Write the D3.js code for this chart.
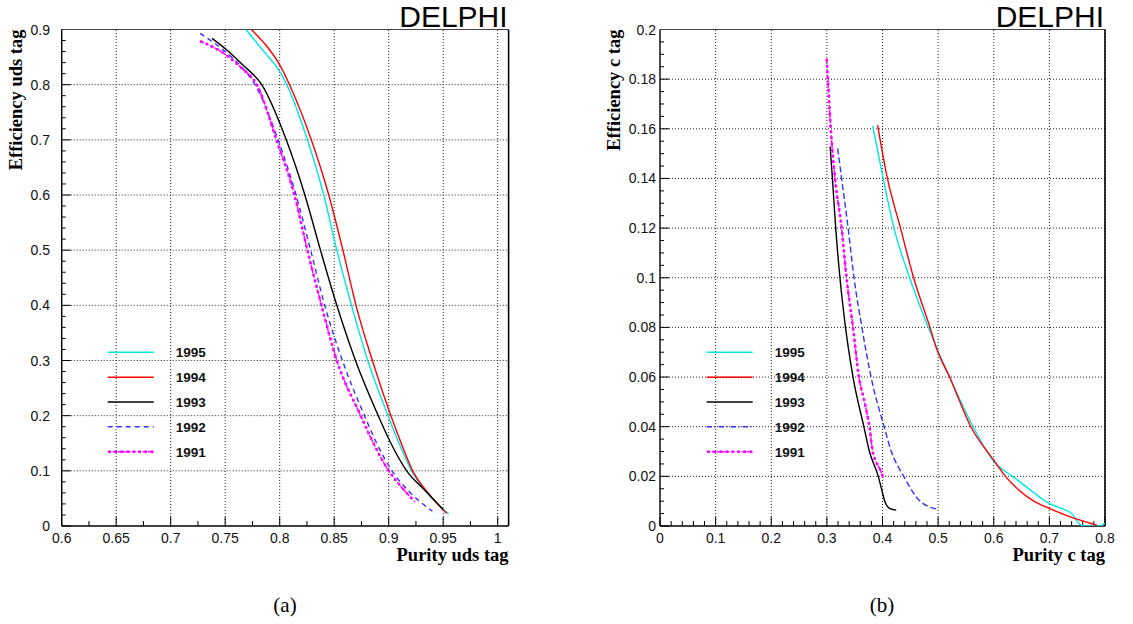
<!DOCTYPE html>
<html>
<head>
<meta charset="utf-8">
<script src="https://cdn.jsdelivr.net/npm/d3@7"></script>
<style>
  html, body { margin: 0; padding: 0; background: #fff; }
  svg { display: block; }
</style>
</head>
<body>
<svg id="chart" width="1133" height="624"></svg>
<script>
// ---------- data ----------
const years = ["1995", "1994", "1993", "1992", "1991"];

// Panel (a): [purity uds tag, efficiency uds tag]
const uds1995 = [[0.769,0.9],[0.786,0.859],[0.800,0.824],[0.8065,0.80],[0.8254,0.70],[0.8404,0.60],[0.8524,0.50],[0.8659,0.40],[0.8808,0.30],[0.8994,0.20],[0.9095,0.15],[0.921,0.10],[0.937,0.056],[0.955,0.022]];
const uds1994 = [[0.774,0.9],[0.788,0.870],[0.800,0.836],[0.809,0.80],[0.829,0.70],[0.845,0.60],[0.858,0.50],[0.870,0.40],[0.885,0.30],[0.902,0.20],[0.9115,0.15],[0.922,0.10],[0.937,0.058],[0.953,0.023]];
const uds1993 = [[0.738,0.884],[0.752,0.862],[0.766,0.836],[0.7835,0.80],[0.806,0.70],[0.8231,0.60],[0.8374,0.50],[0.8524,0.40],[0.8695,0.30],[0.8904,0.20],[0.902,0.15],[0.9165,0.10],[0.933,0.065],[0.950,0.03]];
const uds1992 = [[0.727,0.893],[0.750,0.860],[0.765,0.832],[0.7773,0.80],[0.7985,0.70],[0.815,0.60],[0.8284,0.50],[0.8413,0.40],[0.8575,0.30],[0.8778,0.20],[0.889,0.15],[0.903,0.10],[0.920,0.06],[0.940,0.027]];
const uds1991 = [[0.728,0.878],[0.750,0.855],[0.765,0.830],[0.779,0.80],[0.797,0.70],[0.8135,0.60],[0.8254,0.50],[0.8383,0.40],[0.8524,0.30],[0.8743,0.20],[0.886,0.15],[0.900,0.10],[0.912,0.07],[0.924,0.044]];

// Panel (b): [purity c tag, efficiency c tag]
const c1995 = [[0.3824,0.1612],[0.4012,0.14],[0.4206,0.12],[0.4488,0.10],[0.4824,0.08],[0.5206,0.06],[0.5629,0.04],[0.600,0.026],[0.635,0.0198],[0.67,0.0138],[0.70,0.0090],[0.725,0.0068],[0.741,0.0048],[0.753,0.0010],[0.762,0.0],[0.791,0.0],[0.80,0.0012]];
const c1994 = [[0.3912,0.1615],[0.4088,0.14],[0.4324,0.12],[0.4559,0.10],[0.4853,0.08],[0.497,0.0716],[0.5206,0.06],[0.5588,0.04],[0.600,0.0265],[0.621,0.02],[0.645,0.0145],[0.672,0.010],[0.70,0.0071],[0.741,0.0034],[0.7735,0.0011],[0.785,0.0003]];
const c1993 = [[0.3059,0.1529],[0.31,0.14],[0.3159,0.12],[0.3235,0.10],[0.3335,0.08],[0.347,0.06],[0.3665,0.04],[0.3765,0.03],[0.3924,0.02],[0.3982,0.015],[0.4041,0.01],[0.4135,0.007],[0.4247,0.0064]];
const c1992 = [[0.3194,0.1521],[0.3265,0.14],[0.3382,0.12],[0.3488,0.10],[0.363,0.08],[0.3794,0.06],[0.4029,0.04],[0.4159,0.03],[0.4382,0.02],[0.4676,0.01],[0.5,0.0067]];
const c1991 = [[0.2997,0.1877],[0.3018,0.18],[0.307,0.16],[0.3147,0.14],[0.3265,0.12],[0.3353,0.10],[0.347,0.08],[0.3576,0.06],[0.3676,0.05],[0.3765,0.04],[0.3824,0.03],[0.3959,0.0226],[0.4018,0.0192]];

const udsXTicks = [0.6,0.65,0.7,0.75,0.8,0.85,0.9,0.95,1];
const udsYTicks = [0,0.1,0.2,0.3,0.4,0.5,0.6,0.7,0.8,0.9];
const cXTicks = [0,0.1,0.2,0.3,0.4,0.5,0.6,0.7,0.8];
const cYTicks = [0,0.02,0.04,0.06,0.08,0.1,0.12,0.14,0.16,0.18,0.2];

// ---------- styles ----------
const styles = {
  "1995": {color:"#00e5e5", dash:null, marks:false},
  "1994": {color:"#ff0000", dash:null, marks:false},
  "1993": {color:"#000000", dash:null, marks:false},
  "1992": {color:"#3333ff", dash:"5,4", marks:false},
  "1991": {color:"#ff00ff", dash:"3,2", marks:true}
};

const svg = d3.select("#chart");

function panel(cfg) {
  const x = d3.scaleLinear().domain(cfg.xDomain).range([cfg.x0, cfg.x1]);
  const y = d3.scaleLinear().domain(cfg.yDomain).range([cfg.y0, cfg.y1]);
  const g = svg.append("g");
  const clipId = "clip" + cfg.id;
  svg.append("clipPath").attr("id", clipId).append("rect")
    .attr("x", cfg.x0).attr("y", cfg.y1).attr("width", cfg.x1 - cfg.x0).attr("height", cfg.y0 - cfg.y1);

  // grid
  g.append("g").selectAll("line").data(cfg.xTicks.filter(t => t > cfg.xDomain[0])).join("line")
    .attr("x1", d => x(d)).attr("x2", d => x(d)).attr("y1", cfg.y0).attr("y2", cfg.y1)
    .attr("stroke", "#222").attr("stroke-width", 1).attr("stroke-dasharray", "1,2");
  g.append("g").selectAll("line").data(cfg.yTicks.filter(t => t > cfg.yDomain[0])).join("line")
    .attr("y1", d => y(d)).attr("y2", d => y(d)).attr("x1", cfg.x0).attr("x2", cfg.x1)
    .attr("stroke", "#222").attr("stroke-width", 1).attr("stroke-dasharray", "1,2");

  // ticks (major + minor), drawn inside the frame
  const xMinor = d3.range(cfg.xDomain[0], cfg.xDomain[1] + 1e-9, cfg.xMinorStep);
  g.append("g").selectAll("line").data(xMinor).join("line")
    .attr("x1", d => x(d)).attr("x2", d => x(d)).attr("y1", cfg.y0).attr("y2", d => {
      const isMajor = cfg.xTicks.some(t => Math.abs(t - d) < 1e-6);
      return cfg.y0 - (isMajor ? 9 : 5);
    })
    .attr("stroke", "#000").attr("stroke-width", 1);
  const yMinor = d3.range(cfg.yDomain[0], cfg.yDomain[1] + 1e-9, cfg.yMinorStep);
  g.append("g").selectAll("line").data(yMinor).join("line")
    .attr("y1", d => y(d)).attr("y2", d => y(d)).attr("x1", cfg.x0).attr("x2", d => {
      const isMajor = cfg.yTicks.some(t => Math.abs(t - d) < 1e-6);
      return cfg.x0 + (isMajor ? 9 : 4);
    })
    .attr("stroke", "#000").attr("stroke-width", 1);

  // frame
  g.append("line").attr("x1", cfg.x0).attr("x2", cfg.x1).attr("y1", cfg.y1).attr("y2", cfg.y1)
    .attr("stroke", "#444").attr("stroke-width", 1.2);
  g.append("line").attr("x1", cfg.x1).attr("x2", cfg.x1).attr("y1", cfg.y1).attr("y2", cfg.y0)
    .attr("stroke", "#000").attr("stroke-width", 1.6);
  g.append("line").attr("x1", cfg.x0).attr("x2", cfg.x0).attr("y1", cfg.y1).attr("y2", cfg.y0)
    .attr("stroke", "#000").attr("stroke-width", 1.4);
  g.append("line").attr("x1", cfg.x0).attr("x2", cfg.x1).attr("y1", cfg.y0).attr("y2", cfg.y0)
    .attr("stroke", "#000").attr("stroke-width", 1.4);

  // tick labels
  g.append("g").selectAll("text").data(cfg.xTicks).join("text")
    .attr("x", d => x(d)).attr("y", 543)
    .attr("text-anchor", "middle")
    .attr("font-family", "Liberation Sans, Arial, sans-serif").attr("font-size", 14).attr("fill", "#111")
    .text(d => d3.format("~g")(d));
  g.append("g").selectAll("text").data(cfg.yTicks).join("text")
    .attr("x", cfg.yLabelX).attr("y", d => y(d) + 5)
    .attr("text-anchor", "end")
    .attr("font-family", "Liberation Sans, Arial, sans-serif").attr("font-size", 14).attr("fill", "#111")
    .text(d => d3.format("~g")(d));

  // axis titles
  g.append("text").attr("x", cfg.x1).attr("y", 561).attr("text-anchor", "end")
    .attr("font-family", "Liberation Serif, Times New Roman, serif").attr("font-weight", "bold")
    .attr("font-size", 18.5).text(cfg.xTitle);
  g.append("text").attr("transform", `translate(${cfg.yTitleX},${cfg.y1}) rotate(-90)`)
    .attr("text-anchor", "end")
    .attr("font-family", "Liberation Serif, Times New Roman, serif").attr("font-weight", "bold")
    .attr("font-size", 18.5).text(cfg.yTitle);

  // DELPHI
  g.append("text").attr("x", cfg.x1 - 1).attr("y", 27).attr("text-anchor", "end")
    .attr("font-family", "Liberation Sans, Arial, sans-serif").attr("font-size", 30).text("DELPHI");

  // curves
  const line = d3.line().x(d => x(d[0])).y(d => y(d[1])).curve(d3.curveMonotoneX);
  const cg = g.append("g").attr("clip-path", `url(#${clipId})`);
  cfg.series.forEach((s, i) => {
    const st = styles[years[i]];
    const p = cg.append("path").datum(s).attr("d", line)
      .attr("fill", "none").attr("stroke", st.color)
      .attr("stroke-width", st.marks ? 1.5 : 1.4)
      .attr("stroke-dasharray", cfg.id === "b" && years[i] === "1992" ? "6,3" : st.dash);
    if (st.marks) {
      const node = p.node();
      const L = node.getTotalLength();
      const pts = d3.range(0, L, 6).map(l => node.getPointAtLength(l));
      cg.append("g").selectAll("rect").data(pts).join("rect")
        .attr("x", d => d.x - 1.3).attr("y", d => d.y - 1.3).attr("width", 2.6).attr("height", 2.6)
        .attr("fill", st.color);
    }
  });

  // legend
  const lg = g.append("g");
  years.forEach((yr, i) => {
    const st = styles[yr];
    const ly = cfg.legendY + i * 24.85;
    lg.append("line").attr("x1", cfg.legendX).attr("x2", cfg.legendX + 46)
      .attr("y1", ly).attr("y2", ly).attr("stroke", st.color).attr("stroke-width", 1.5)
      .attr("stroke-dasharray", cfg.id === "b" && yr === "1992" ? "5,3,1,3" : st.dash);
    if (st.marks) {
      lg.append("g").selectAll("rect").data(d3.range(cfg.legendX + 2, cfg.legendX + 46, 6)).join("rect")
        .attr("x", d => d - 1.3).attr("y", ly - 1.3).attr("width", 2.6).attr("height", 2.6).attr("fill", st.color);
    }
    lg.append("text").attr("x", cfg.legendX + 68).attr("y", ly + 5)
      .attr("font-family", "Liberation Sans, Arial, sans-serif").attr("font-weight", "bold")
      .attr("font-size", 13.5).attr("fill", "#111").text(yr);
  });

  // caption
  svg.append("text").attr("x", cfg.captionX).attr("y", 612).attr("text-anchor", "middle")
    .attr("font-family", "Liberation Serif, DejaVu Serif, serif").attr("font-size", 21).text(cfg.caption);
}

panel({
  id: "a", xDomain: [0.6, 1.01], yDomain: [0, 0.9],
  x0: 61.7, x1: 508.6, y0: 526, y1: 29.5,
  xTicks: udsXTicks, yTicks: udsYTicks, xMinorStep: 0.025, yMinorStep: 0.02,
  yLabelX: 50, yTitleX: 22,
  xTitle: "Purity uds tag", yTitle: "Efficiency uds tag",
  series: [uds1995, uds1994, uds1993, uds1992, uds1991],
  legendX: 107.7, legendY: 352.3, caption: "(a)", captionX: 285
});
panel({
  id: "b", xDomain: [0, 0.8], yDomain: [0, 0.2],
  x0: 660, x1: 1105, y0: 526, y1: 29.5,
  xTicks: cXTicks, yTicks: cYTicks, xMinorStep: 0.02, yMinorStep: 0.005,
  yLabelX: 656, yTitleX: 620,
  xTitle: "Purity c tag", yTitle: "Efficiency c tag",
  series: [c1995, c1994, c1993, c1992, c1991],
  legendX: 706.7, legendY: 352.3, caption: "(b)", captionX: 882
});
</script>
</body>
</html>
